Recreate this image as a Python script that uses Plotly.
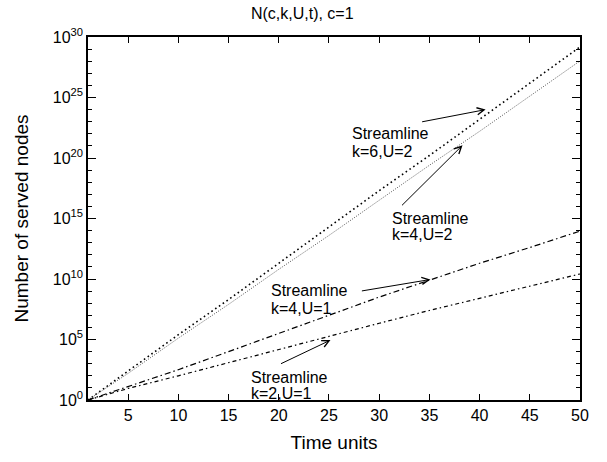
import plotly.graph_objects as go

# ---- data ----
t = [1, 5, 10, 15, 20, 25, 30, 35, 40, 45, 50]
n_k6_u2 = [1e0, 2.5e2, 2.5e5, 2.0e8, 2.0e11, 2.0e14, 2.0e17, 1.6e20, 1.6e23, 1.6e26, 1.5e29]
n_k4_u2 = [1e0, 1.6e2, 1.3e5, 8.0e7, 6.3e10, 4.0e13, 3.2e16, 2.5e19, 1.6e22, 1.3e25, 1.05e28]
n_k4_u1 = [1e0, 1.25e1, 3.2e2, 1.0e4, 3.2e5, 1.0e7, 3.2e8, 8.0e9, 2.0e11, 4.0e12, 9.1e13]
n_k2_u1 = [1e0, 9.0e0, 1.0e2, 1.25e3, 1.6e4, 2.0e5, 2.2e6, 2.5e7, 2.5e8, 2.5e9, 2.6e10]

series_names = ["k=6,U=2", "k=4,U=2", "k=4,U=1", "k=2,U=1"]
y_tickvals = [1e0, 1e5, 1e10, 1e15, 1e20, 1e25, 1e30]
y_ticktext = ["10<sup>0</sup>", "10<sup>5</sup>", "10<sup>10</sup>", "10<sup>15</sup>",
              "10<sup>20</sup>", "10<sup>25</sup>", "10<sup>30</sup>"]
x_tickvals = [5, 10, 15, 20, 25, 30, 35, 40, 45, 50]

FONT = "Liberation Sans, Arial, Helvetica, sans-serif"

fig = go.Figure()
styles = [
    dict(color="black", width=1.6, dash="1.6px,3px"),
    dict(color="#555555", width=1, dash="1px,1.5px"),
    dict(color="black", width=1.2, dash="6px,3px,1.5px,3px"),
    dict(color="black", width=1.2, dash="4px,3px,1.5px,3px"),
]
for name, ys, st in zip(series_names, [n_k6_u2, n_k4_u2, n_k4_u1, n_k2_u1], styles):
    fig.add_trace(go.Scatter(x=t, y=ys, mode="lines", name=name, line=st,
                             showlegend=False))

# plot area in pixels
L, R, T, B = 88, 580, 37, 406
W, H = 607, 462


def px(xp):
    return (xp - L) / (R - L)


def py(yp):
    return (B - yp) / (B - T)


# arrows: tip in data coords (x, log10 y), tail offsets in pixels
arrows = [
    (40.6, 24.0, -65, 12.5),
    (38.3, 21.05, -62, 61.5),
    (35.1, 9.96, -70, 11.7),
    (25.15, 4.95, -51, 24.3),
]
for x, ly, ax, ay in arrows:
    fig.add_annotation(x=x, y=ly, xref="x", yref="y", ax=ax, ay=ay,
                       axref="pixel", ayref="pixel", text="", showarrow=True,
                       arrowhead=5, arrowsize=1.4, arrowwidth=1, arrowcolor="black")

labels = [
    (350, 135.5, 153),
    (390, 221.7, 238),
    (269, 295, 312.5),
    (249, 383.5, 399.5),
]
for (xl, y1, y2), nm in zip(labels, series_names):
    fig.add_annotation(x=px(xl), y=py(y1), xref="paper", yref="paper", text="Streamline",
                       showarrow=False, xanchor="left", yanchor="middle",
                       font=dict(family=FONT, size=16, color="black"))
    fig.add_annotation(x=px(xl), y=py(y2), xref="paper", yref="paper", text=nm,
                       showarrow=False, xanchor="left", yanchor="middle",
                       font=dict(family=FONT, size=16, color="black"))

fig.update_layout(
    width=W, height=H,
    margin=dict(l=L, r=W - R, t=T, b=H - B),
    paper_bgcolor="white", plot_bgcolor="white",
    font=dict(family=FONT, size=16, color="black"),
    title=dict(text="N(c,k,U,t), c=1", x=px(333), xanchor="center", y=1 - 13 / H,
               yanchor="middle", font=dict(size=16)),
)
fig.update_xaxes(
    range=[1, 50], tickvals=x_tickvals, ticks="inside", ticklen=6, tickwidth=1,
    tickcolor="black", showline=True, linecolor="black", linewidth=1.5, mirror="allticks",
    showgrid=False, zeroline=False,
    title=dict(text="Time units", standoff=13),
)
fig.update_yaxes(
    type="log", range=[0, 30], tickvals=y_tickvals, ticktext=y_ticktext,
    ticks="inside", ticklen=8, tickwidth=1, tickcolor="black",
    showline=True, linecolor="black", linewidth=1.5, mirror="allticks",
    showgrid=False, zeroline=False,
    minor=dict(tickvals=[10.0 ** i for i in range(31) if i % 5 != 0], ticks="inside",
               ticklen=4, tickwidth=1, tickcolor="black", showgrid=False),
    title=dict(text="Number of served nodes", standoff=19),
)

fig.write_html("out.html")
